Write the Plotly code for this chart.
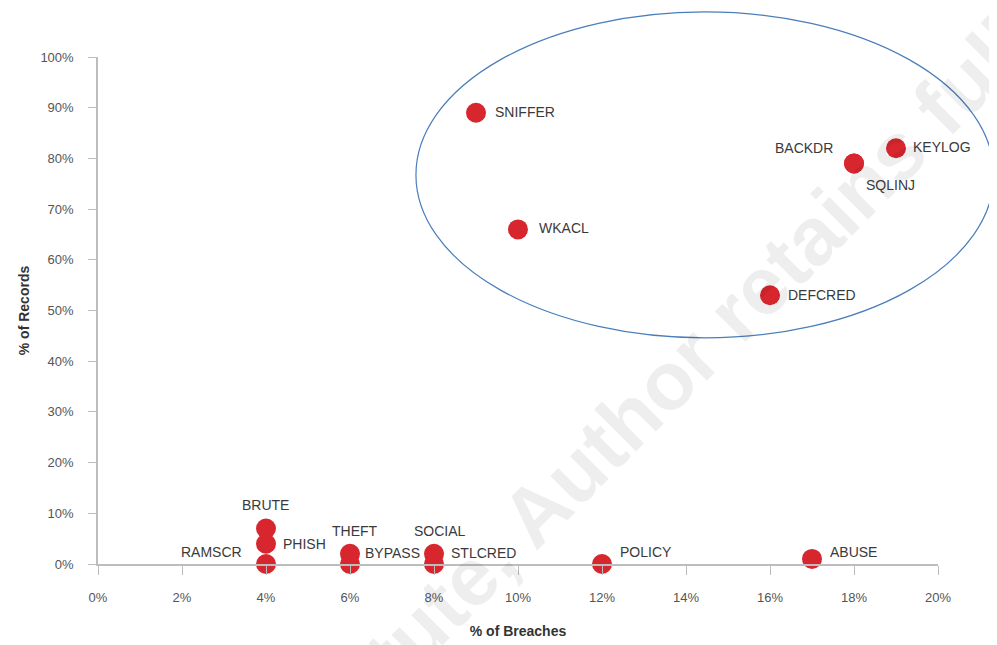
import plotly.graph_objects as go

# ---- data ----
labels = ["SNIFFER", "KEYLOG", "BACKDR", "SQLINJ", "WKACL", "DEFCRED",
          "BRUTE", "PHISH", "RAMSCR", "THEFT", "BYPASS", "SOCIAL",
          "STLCRED", "POLICY", "ABUSE"]
breaches = [9, 19, 18, 18, 10, 16, 4, 4, 4, 6, 6, 8, 8, 12, 17]
records = [89, 82, 79, 79, 66, 53, 7, 4, 0, 2, 0, 2, 0, 0, 1]
x_ticks = [0, 2, 4, 6, 8, 10, 12, 14, 16, 18, 20]
x_tick_labels = ["0%", "2%", "4%", "6%", "8%", "10%", "12%", "14%", "16%", "18%", "20%"]
y_ticks = [0, 10, 20, 30, 40, 50, 60, 70, 80, 90, 100]
y_tick_labels = ["0%", "10%", "20%", "30%", "40%", "50%", "60%", "70%", "80%", "90%", "100%"]

# ---- label placement (styling: anchor, pixel shifts) ----
label_style = {
    "SNIFFER": ("left", 17, 1),
    "KEYLOG": ("left", 15, 1),
    "BACKDR": ("right", -19, 15),
    "SQLINJ": ("left", 10, -22),
    "WKACL": ("left", 19, 1),
    "DEFCRED": ("left", 16, 0),
    "BRUTE": ("center", -1, 24),
    "PHISH": ("left", 15, 0),
    "RAMSCR": ("right", -22, 12),
    "THEFT": ("center", 5, 23),
    "BYPASS": ("left", 13, 11),
    "SOCIAL": ("center", 6, 23),
    "STLCRED": ("left", 15, 11),
    "POLICY": ("left", 16, 12),
    "ABUSE": ("left", 16, 7),
}

X_RANGE = [0, 20]
Y_RANGE = [0, 100]
FONT = "Liberation Sans, Arial, sans-serif"

fig = go.Figure()
fig.add_trace(go.Scatter(
    x=breaches, y=records, mode="markers",
    marker=dict(size=20, color="#d8262f", line=dict(width=0)),
    cliponaxis=False, hoverinfo="text", text=labels,
))

annotations = []
# watermark (drawn first)
annotations.append(dict(
    x=0.607, y=0.245, xref="paper", yref="paper",
    text="<b>© SANS Institute, Author retains full rights</b>",
    showarrow=False, textangle=-45,
    xanchor="center", yanchor="middle",
    font=dict(family=FONT, size=82, color="rgba(0,0,0,0.065)"),
))
for lab, xv, yv in zip(labels, breaches, records):
    anchor, dx, dy = label_style[lab]
    annotations.append(dict(
        x=xv, y=yv, xref="x", yref="y", text=lab, showarrow=False,
        xanchor=anchor, yanchor="middle", xshift=dx, yshift=dy,
        font=dict(family=FONT, size=14, color="#3a3a3a"),
    ))

# ellipse (in paper coords, computed from data-unit extents)
ex0, ex1, ey0, ey1 = 7.57, 21.33, 44.6, 108.9
def px(v):
    return (v - X_RANGE[0]) / (X_RANGE[1] - X_RANGE[0])
def py(v):
    return (v - Y_RANGE[0]) / (Y_RANGE[1] - Y_RANGE[0])

fig.add_shape(type="circle", xref="paper", yref="paper",
              x0=px(ex0), x1=px(ex1), y0=py(ey0), y1=py(ey1),
              line=dict(color="#4a7ebb", width=1.2), layer="above")

fig.update_layout(
    width=997, height=645,
    margin=dict(l=90, r=67, t=49, b=89),
    paper_bgcolor="white", plot_bgcolor="white",
    showlegend=False,
    annotations=annotations,
    font=dict(family=FONT, color="#444"),
    xaxis=dict(
        range=X_RANGE, tickvals=x_ticks, ticktext=x_tick_labels,
        showgrid=False, zeroline=False, showline=True, linecolor="#bdbdbd", linewidth=1.5,
        ticks="outside", ticklen=9, tickcolor="#bdbdbd", tickwidth=1,
        ticklabelstandoff=12,
        tickfont=dict(size=13, color="#555"),
        title=dict(text="<b>% of Breaches</b>", font=dict(size=14, color="#333"), standoff=22),
    ),
    yaxis=dict(
        range=Y_RANGE, tickvals=y_ticks, ticktext=y_tick_labels,
        showgrid=False, zeroline=False, showline=True, linecolor="#bdbdbd", linewidth=1.5,
        ticks="outside", ticklen=8, tickcolor="#bdbdbd", tickwidth=1,
        ticklabelstandoff=12,
        tickfont=dict(size=13, color="#555"),
        title=dict(text="<b>% of Records</b>", font=dict(size=14, color="#333"), standoff=8),
    ),
)

fig.write_html("out.html")
